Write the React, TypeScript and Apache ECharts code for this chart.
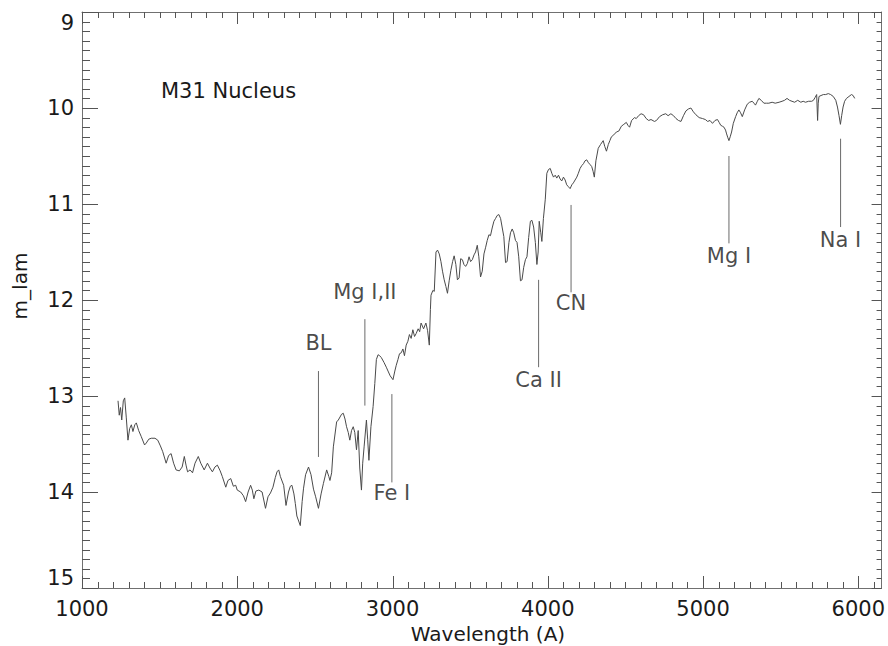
import React, { useEffect, useRef } from "react";
import * as echarts from "echarts";

// Spectrum: wavelength (Å) and m_lam values
const wavelength: number[] = [
  1232, 1240, 1248, 1256, 1266, 1275, 1285, 1296, 1307, 1318, 1328, 1340, 1350, 1365, 1381, 1403, 1414, 1430, 1446, 1470,
  1488, 1505, 1520, 1542, 1558, 1574, 1590, 1606, 1627, 1645, 1659, 1670, 1680, 1696, 1712, 1728, 1749, 1765, 1787, 1808,
  1824, 1840, 1856, 1872, 1890, 1904, 1926, 1940, 1958, 1975, 1990, 2000, 2022, 2040, 2054, 2070, 2086, 2097, 2107, 2120,
  2139, 2160, 2182, 2198, 2214, 2230, 2245, 2256, 2267, 2278, 2299, 2314, 2330, 2342, 2352, 2365, 2374, 2384, 2406, 2418,
  2427, 2440, 2459, 2475, 2491, 2505, 2523, 2540, 2555, 2576, 2590, 2597, 2608, 2619, 2640, 2651, 2672, 2683, 2694, 2704,
  2715, 2725, 2736, 2747, 2757, 2768, 2779, 2789, 2800, 2808, 2817, 2832, 2840, 2848, 2861, 2875, 2886, 2896, 2907, 2917,
  2928, 2945, 2960, 2971, 2985, 3003, 3015, 3024, 3035, 3045, 3056, 3067, 3077, 3088, 3099, 3109, 3120, 3131, 3142, 3152,
  3165, 3175, 3184, 3200, 3215, 3226, 3237, 3244, 3248, 3260, 3269, 3280, 3290, 3301, 3312, 3322, 3333, 3344, 3354, 3365,
  3376, 3387, 3397, 3408, 3418, 3429, 3439, 3450, 3460, 3471, 3482, 3493, 3503, 3514, 3525, 3535, 3546, 3556, 3567, 3578,
  3589, 3600, 3610, 3621, 3631, 3642, 3653, 3664, 3674, 3685, 3696, 3707, 3717, 3728, 3738, 3750, 3760, 3771, 3781, 3792,
  3802, 3813, 3824, 3834, 3845, 3856, 3866, 3877, 3888, 3898, 3909, 3920, 3930, 3938, 3945, 3955, 3962, 3972, 3984, 3994,
  4005, 4016, 4026, 4037, 4048, 4058, 4069, 4080, 4090, 4101, 4112, 4122, 4133, 4144, 4155, 4165, 4176, 4187, 4197, 4208,
  4219, 4230, 4240, 4251, 4262, 4273, 4283, 4292, 4300, 4310, 4325, 4340, 4357, 4367, 4378, 4390, 4400, 4410, 4425, 4442,
  4458, 4474, 4490, 4506, 4516, 4527, 4540, 4559, 4570, 4585, 4601, 4617, 4634, 4650, 4665, 4687, 4700, 4720, 4740, 4760,
  4775, 4793, 4810, 4826, 4842, 4858, 4874, 4890, 4906, 4922, 4938, 4954, 4975, 4997, 5015, 5030, 5045, 5061, 5077, 5093,
  5104, 5114, 5125, 5135, 5145, 5152, 5160, 5167, 5175, 5184, 5195, 5210, 5220, 5231, 5242, 5253, 5268, 5285, 5300, 5317,
  5328, 5338, 5350, 5360, 5375, 5392, 5408, 5424, 5445, 5465, 5490, 5509, 5525, 5541, 5557, 5573, 5590, 5610, 5630, 5645,
  5660, 5680, 5700, 5711, 5722, 5732, 5738, 5742, 5747, 5760, 5775, 5790, 5807, 5822, 5839, 5855, 5866, 5876, 5885, 5893,
  5902, 5912, 5924, 5940, 5956, 5967, 5977,
];

const mLam: number[] = [
  13.05, 13.2, 13.12, 13.25, 13.05, 13.02, 13.22, 13.46, 13.34, 13.3, 13.37, 13.3, 13.28, 13.36, 13.42, 13.51, 13.49, 13.45, 13.44, 13.44,
  13.46, 13.52, 13.58, 13.7, 13.62, 13.6, 13.7, 13.77, 13.78, 13.74, 13.63, 13.72, 13.79, 13.77, 13.8, 13.7, 13.63, 13.7, 13.77, 13.7,
  13.75, 13.79, 13.74, 13.72, 13.78, 13.84, 13.95, 13.88, 13.86, 13.94, 13.93, 13.98, 14.0, 14.04, 14.1, 14.0, 13.93, 13.98, 14.07, 13.99,
  13.98, 14.0, 14.17, 14.05, 14.01, 13.95, 13.85, 13.79, 13.77, 13.84, 13.93, 14.14, 14.0, 13.94, 13.93, 14.02, 14.12, 14.25, 14.35, 14.1,
  13.96, 13.82, 13.74, 13.82, 13.97, 14.05, 14.17, 14.02, 13.91, 13.77, 13.84, 13.88, 13.8, 13.53, 13.27, 13.25, 13.19, 13.18, 13.24, 13.32,
  13.38, 13.46, 13.36, 13.32, 13.38, 13.56, 13.36, 13.75, 13.98, 13.7, 13.53, 13.25, 13.45, 13.67, 13.32, 13.11, 12.87, 12.62, 12.57, 12.58,
  12.6, 12.65, 12.7, 12.74, 12.79, 12.83, 12.74, 12.68, 12.62, 12.56, 12.55, 12.51, 12.58, 12.47, 12.43, 12.36, 12.4, 12.31, 12.38, 12.35,
  12.3, 12.33, 12.24, 12.3, 12.24, 12.32, 12.47, 12.1, 11.95, 11.9, 11.91, 11.5, 11.48, 11.52, 11.6, 11.7, 11.79, 11.86, 11.93, 11.8,
  11.69, 11.6, 11.54, 11.63, 11.79, 11.77, 11.57, 11.58, 11.63, 11.65, 11.62, 11.55, 11.6, 11.58, 11.53, 11.5, 11.43, 11.55, 11.76, 11.7,
  11.52, 11.45, 11.38, 11.32, 11.33, 11.25, 11.18, 11.15, 11.12, 11.11, 11.15, 11.25, 11.34, 11.61, 11.6, 11.4, 11.3, 11.26, 11.3, 11.38,
  11.4, 11.55, 11.8, 11.79, 11.66, 11.58, 11.55, 11.35, 11.18, 11.17, 11.24, 11.4, 11.63, 11.5, 11.18, 11.3, 11.39, 11.15, 10.95, 10.68,
  10.64, 10.63, 10.68, 10.72, 10.7, 10.73, 10.7, 10.74, 10.76, 10.72, 10.75, 10.8, 10.82, 10.84, 10.8, 10.78, 10.75, 10.72, 10.68, 10.63,
  10.6, 10.58, 10.55, 10.54, 10.57, 10.59, 10.61, 10.66, 10.72, 10.55, 10.42, 10.38, 10.34, 10.4, 10.45, 10.38, 10.34, 10.3, 10.28, 10.25,
  10.24, 10.19, 10.17, 10.15, 10.18, 10.2, 10.13, 10.1, 10.11, 10.08, 10.06, 10.07, 10.11, 10.13, 10.12, 10.14, 10.13, 10.09, 10.07, 10.06,
  10.08, 10.06, 10.08, 10.11, 10.13, 10.14, 10.08, 10.03, 10.01, 10.0, 10.04, 10.07, 10.1, 10.11, 10.12, 10.14, 10.13, 10.16, 10.13, 10.12,
  10.15, 10.18, 10.19, 10.2, 10.23, 10.27, 10.31, 10.34, 10.3, 10.25, 10.16, 10.09, 10.05, 10.02, 10.05, 10.09, 10.02, 9.96, 9.94, 9.93,
  9.95, 9.97, 9.93, 9.9, 9.92, 9.95, 9.95, 9.95, 9.94, 9.95, 9.94, 9.93, 9.92, 9.9, 9.92, 9.93, 9.94, 9.92, 9.94, 9.93,
  9.94, 9.93, 9.93, 9.92, 9.89, 9.86, 10.13, 9.95, 9.88, 9.87, 9.86, 9.86, 9.85, 9.86, 9.88, 9.92, 9.99, 10.08, 10.17, 10.08,
  9.99, 9.93, 9.9, 9.88, 9.86, 9.87, 9.9,
];

// Spectral feature markers
const featureNames: string[] = ["BL", "Mg I,II", "Fe I", "Ca II", "CN", "Mg I", "Na I"];
const featureWave: number[] = [2523, 2822, 2996, 3941, 4150, 5167, 5886];
const featureTop: number[] = [12.74, 12.2, 12.98, 11.79, 11.01, 10.5, 10.32];
const featureBottom: number[] = [13.635, 13.1, 13.9, 12.7, 11.92, 11.41, 11.24];
const featureLabelY: number[] = [12.45, 11.92, 14.01, 12.835, 12.03, 11.54, 11.375];

// Axis ranges and ticks
const xMin = 1000;
const xMax = 6150;
const xMajorStep = 1000;
const yMin = 9;
const yMax = 15;
const yMajorStep = 1;
const xMajorTicks: number[] = [1000, 2000, 3000, 4000, 5000, 6000];
const xMinorTicks: number[] = [
  1100, 1200, 1300, 1400, 1500, 1600, 1700, 1800, 1900,
  2100, 2200, 2300, 2400, 2500, 2600, 2700, 2800, 2900,
  3100, 3200, 3300, 3400, 3500, 3600, 3700, 3800, 3900,
  4100, 4200, 4300, 4400, 4500, 4600, 4700, 4800, 4900,
  5100, 5200, 5300, 5400, 5500, 5600, 5700, 5800, 5900,
  6100,
];
const yMajorTicks: number[] = [9, 10, 11, 12, 13, 14, 15];
const yMinorTicks: number[] = [
  9.1, 9.2, 9.3, 9.4, 9.5, 9.6, 9.7, 9.8, 9.9,
  10.1, 10.2, 10.3, 10.4, 10.5, 10.6, 10.7, 10.8, 10.9,
  11.1, 11.2, 11.3, 11.4, 11.5, 11.6, 11.7, 11.8, 11.9,
  12.1, 12.2, 12.3, 12.4, 12.5, 12.6, 12.7, 12.8, 12.9,
  13.1, 13.2, 13.3, 13.4, 13.5, 13.6, 13.7, 13.8, 13.9,
  14.1, 14.2, 14.3, 14.4, 14.5, 14.6, 14.7, 14.8, 14.9,
];

const FONT = "DejaVu Sans";
const INK = "#1a1a1a";
const AXIS = "#707070";
const TICK = "#555555";
const LINE = "#4a4a4a";

// tick lengths (px) per side: [major, minor]
const TICK_LEN = {
  bottom: [12, 6],
  top: [12, 6],
  left: [16, 8],
  right: [10, 5],
};

export default function App() {
  const ref = useRef<HTMLDivElement>(null);

  useEffect(() => {
    if (!ref.current) return;
    const chart = echarts.init(ref.current, undefined, { renderer: "svg" });

    const xAxisBase = (position: "bottom" | "top", showLabel: boolean) => ({
      type: "value",
      position,
      min: xMin,
      max: xMax,
      interval: xMajorStep,
      axisLine: { show: true, onZero: false, lineStyle: { color: AXIS, width: 1 } },
      axisTick: { show: false },
      axisLabel: {
        show: showLabel,
        showMaxLabel: false,
        margin: 10,
        fontSize: 21,
        fontFamily: FONT,
        color: INK,
        formatter: (v: number) => (v % 1000 === 0 ? String(v) : ""),
      },
      splitLine: { show: false },
    });

    const yAxisBase = (position: "left" | "right", showLabel: boolean) => ({
      type: "value",
      position,
      inverse: true,
      min: yMin,
      max: yMax,
      interval: yMajorStep,
      axisLine: { show: true, onZero: false, lineStyle: { color: AXIS, width: 1 } },
      axisTick: { show: false },
      axisLabel: {
        show: showLabel,
        margin: 8,
        fontSize: 21,
        fontFamily: FONT,
        color: INK,
        verticalAlignMinLabel: "top",
        verticalAlignMaxLabel: "bottom",
      },
      splitLine: { show: false },
    });

    // tick rows: [x, y, side(0 bottom,1 top,2 left,3 right), length]
    const tickData: number[][] = [];
    xMajorTicks.forEach((v) => {
      tickData.push([v, yMax, 0, TICK_LEN.bottom[0]]);
      tickData.push([v, yMin, 1, TICK_LEN.top[0]]);
    });
    xMinorTicks.forEach((v) => {
      tickData.push([v, yMax, 0, TICK_LEN.bottom[1]]);
      tickData.push([v, yMin, 1, TICK_LEN.top[1]]);
    });
    yMajorTicks.forEach((v) => {
      tickData.push([xMin, v, 2, TICK_LEN.left[0]]);
      tickData.push([xMax, v, 3, TICK_LEN.right[0]]);
    });
    yMinorTicks.forEach((v) => {
      tickData.push([xMin, v, 2, TICK_LEN.left[1]]);
      tickData.push([xMax, v, 3, TICK_LEN.right[1]]);
    });

    const renderTick = (_params: any, api: any) => {
      const p = api.coord([api.value(0), api.value(1)]);
      const side = api.value(2);
      const len = api.value(3);
      let x1 = p[0];
      let y1 = p[1];
      let x2 = x1;
      let y2 = y1;
      if (side === 0 || side === 1) {
        x1 = x2 = Math.round(p[0]) + 0.5;
        y2 = side === 0 ? y1 - len : y1 + len;
      } else {
        y1 = y2 = Math.round(p[1]) + 0.5;
        x2 = side === 2 ? x1 + len : x1 - len;
      }
      return {
        type: "line",
        shape: { x1, y1, x2, y2 },
        style: { stroke: TICK, lineWidth: 1 },
      };
    };

    const featureSeries = featureNames.map((name, i) => ({
      type: "line",
      name,
      xAxisIndex: 0,
      yAxisIndex: 0,
      data: [
        [featureWave[i], featureTop[i]],
        [featureWave[i], featureBottom[i]],
      ],
      symbol: "none",
      lineStyle: { color: "#6a6a6a", width: 1 },
      silent: true,
      z: 3,
    }));

    chart.setOption({
      animation: false,
      backgroundColor: "#ffffff",
      grid: { left: 82, right: 1, top: 12, bottom: 58, containLabel: false },
      xAxis: [xAxisBase("bottom", true), xAxisBase("top", false)],
      yAxis: [yAxisBase("left", true), yAxisBase("right", false)],
      series: [
        {
          type: "custom",
          name: "ticks",
          xAxisIndex: 0,
          yAxisIndex: 0,
          clip: false,
          silent: true,
          encode: { x: 0, y: 1 },
          data: tickData,
          renderItem: renderTick,
          z: 5,
        },
        {
          type: "line",
          name: "M31 Nucleus",
          xAxisIndex: 0,
          yAxisIndex: 0,
          data: wavelength.map((w, i) => [w, mLam[i]]),
          symbol: "none",
          showSymbol: false,
          lineStyle: { color: LINE, width: 1 },
          silent: true,
          z: 4,
        },
        ...featureSeries,
        {
          type: "scatter",
          name: "labels",
          xAxisIndex: 0,
          yAxisIndex: 0,
          symbolSize: 0,
          silent: true,
          data: featureNames.map((n, i) => [featureWave[i], featureLabelY[i], n]),
          label: {
            show: true,
            position: "inside",
            formatter: (p: any) => p.data[2],
            fontSize: 21,
            fontFamily: FONT,
            color: INK,
          },
        },
      ],
      graphic: [
        {
          type: "text",
          left: 161,
          top: 80,
          style: { text: "M31 Nucleus", fontSize: 21, fontFamily: FONT, fill: INK },
        },
        {
          type: "text",
          x: 488,
          y: 634,
          style: {
            text: "Wavelength (A)",
            fontSize: 20,
            fontFamily: FONT,
            fill: INK,
            align: "center",
            verticalAlign: "middle",
          },
        },
        {
          type: "text",
          x: 20,
          y: 286,
          rotation: Math.PI / 2,
          style: {
            text: "m_lam",
            fontSize: 20,
            fontFamily: FONT,
            fill: INK,
            align: "center",
            verticalAlign: "middle",
          },
        },
      ],
    });

    return () => chart.dispose();
  }, []);

  return (
    <div
      ref={ref}
      style={{ position: "fixed", left: 0, top: 0, width: 888, height: 646, background: "#fff" }}
    />
  );
}
